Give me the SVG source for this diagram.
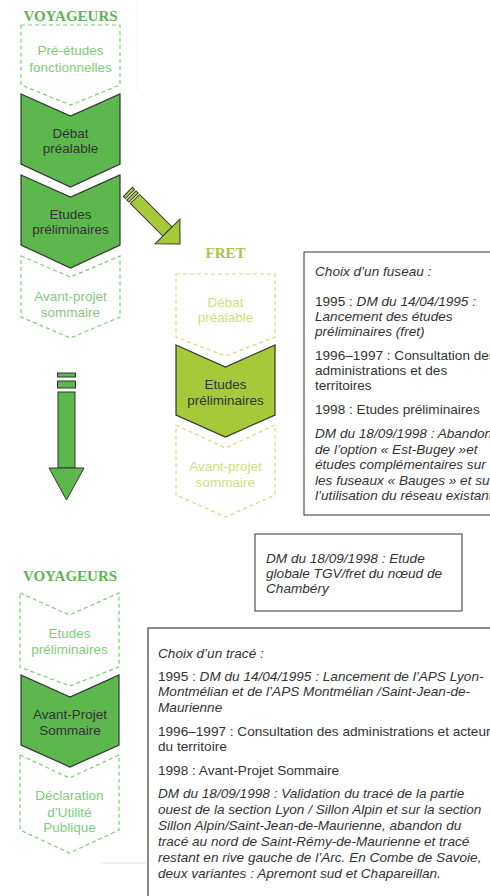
<svg xmlns="http://www.w3.org/2000/svg" width="490" height="896" viewBox="0 0 490 896">
<style>
.bg{fill:#ffffff}
.title{font-family:"Liberation Serif",serif;font-weight:bold;font-size:15px;text-anchor:middle}
.tv{fill:#5ab552}
.tf{fill:#a9c63f}
.nt{font-family:"Liberation Sans",Arial,sans-serif;font-size:13.5px;text-anchor:middle}
.solidV{fill:#5cb84d;stroke:#333;stroke-width:1.2}
.solidF{fill:#a6c93a;stroke:#333;stroke-width:1.2}
.dashV{fill:none;stroke:#7fcc7a;stroke-width:1.2;stroke-dasharray:4 3}
.dashF{fill:none;stroke:#cddf7f;stroke-width:1.2;stroke-dasharray:4 3}
.dark{fill:#333}
.lv{fill:#7fcc7a}
.lf{fill:#cddf7f}
.box{fill:#fff;stroke:#333;stroke-width:1}
.box3{fill:#fff;stroke:#666;stroke-width:1.5}
.bt{font-family:"Liberation Sans",Arial,sans-serif;font-size:13.6px;fill:#333}
.i{font-style:italic}
.arrV{fill:#5cb84d;stroke:#333;stroke-width:1}
.arrF{fill:#a6c93a;stroke:#333;stroke-width:1}
</style>
<rect class="bg" x="0" y="0" width="490" height="896"/>
<line x1="137" y1="0" x2="137" y2="90" stroke="#f0f0f0" stroke-width="1"/>
<line x1="100" y1="863" x2="146" y2="863" stroke="#e2e2e2" stroke-width="1"/>

<g id="connectors">
  <g id="arrow-diag" transform="translate(167.5,231.5) rotate(45)">
    <rect class="arrF" x="-56" y="-6.5" width="3" height="13"/>
    <rect class="arrF" x="-51" y="-6.5" width="3" height="13"/>
    <rect class="arrF" x="-46" y="-6.5" width="46" height="13"/>
    <polygon class="arrF" points="0,-17.5 17.7,0 0,17.5"/>
  </g>
  <g id="arrow-down">
    <rect class="arrV" x="57.5" y="373" width="18" height="4"/>
    <rect class="arrV" x="57.5" y="381" width="18" height="7"/>
    <rect class="arrV" x="58" y="392" width="17" height="76"/>
    <polygon class="arrV" points="49,468 84,468 66.5,500"/>
  </g>
</g>

<g id="title-voyageurs-1"><text class="title tv" x="70.5" y="21">VOYAGEURS</text></g>
<g id="node-pre-etudes">
  <path class="dashV" d="M21,25 H120 V85 L70.5,105 L21,85 Z"/>
  <text class="nt lv" x="70.5" y="55">Pré-études</text>
  <text class="nt lv" x="70.5" y="72">fonctionnelles</text>
</g>
<g id="node-debat-v">
  <path class="solidV" d="M21,94 L70.5,116 L120,94 V164 L70.5,187 L21,164 Z"/>
  <text class="nt dark" x="70.5" y="138">Débat</text>
  <text class="nt dark" x="70.5" y="153">préalable</text>
</g>
<g id="node-etudes-v">
  <path class="solidV" d="M21,175 L70.5,197 L120,175 V245 L70.5,268 L21,245 Z"/>
  <text class="nt dark" x="70.5" y="219">Etudes</text>
  <text class="nt dark" x="70.5" y="234">préliminaires</text>
</g>
<g id="node-aps-v">
  <path class="dashV" d="M21,256 L70.5,277 L120,256 V317 L70.5,338 L21,317 Z"/>
  <text class="nt lv" x="70.5" y="301">Avant-projet</text>
  <text class="nt lv" x="70.5" y="317">sommaire</text>
</g>

<g id="title-fret"><text class="title tf" x="225.5" y="258">FRET</text></g>
<g id="node-debat-f">
  <path class="dashF" d="M176,274 H275 V337 L225.5,356 L176,337 Z"/>
  <text class="nt lf" x="225.5" y="307">Débat</text>
  <text class="nt lf" x="225.5" y="322">préalable</text>
</g>
<g id="node-etudes-f">
  <path class="solidF" d="M176,345 L225.5,367 L275,345 V415 L225.5,437 L176,415 Z"/>
  <text class="nt dark" x="225.5" y="389">Etudes</text>
  <text class="nt dark" x="225.5" y="405">préliminaires</text>
</g>
<g id="node-aps-f">
  <path class="dashF" d="M176,425 L225.5,448 L275,425 V495 L225.5,517 L176,495 Z"/>
  <text class="nt lf" x="225.5" y="471">Avant-projet</text>
  <text class="nt lf" x="225.5" y="487">sommaire</text>
</g>

<g id="box-fuseau">
  <rect class="box" x="304" y="252" width="200" height="263"/>
  <text class="bt i" x="315" y="276">Choix d’un fuseau :</text>
  <text class="bt" x="315" y="306">1995 : <tspan class="i">DM du 14/04/1995 :</tspan></text>
  <text class="bt i" x="315" y="321">Lancement des études</text>
  <text class="bt i" x="315" y="336">préliminaires (fret)</text>
  <text class="bt" x="315" y="360">1996–1997 : Consultation des</text>
  <text class="bt" x="315" y="375">administrations et des</text>
  <text class="bt" x="315" y="390">territoires</text>
  <text class="bt" x="315" y="414">1998 : Etudes préliminaires</text>
  <text class="bt i" x="315" y="438">DM du 18/09/1998 : Abandon</text>
  <text class="bt i" x="315" y="454">de l’option « Est-Bugey »et</text>
  <text class="bt i" x="315" y="469">études complémentaires sur</text>
  <text class="bt i" x="315" y="485">les fuseaux « Bauges » et sur</text>
  <text class="bt i" x="315" y="500">l’utilisation du réseau existant</text>
</g>

<g id="box-chambery">
  <rect class="box" x="255" y="534" width="207" height="77"/>
  <text class="bt i" x="266" y="563">DM du 18/09/1998 : Etude</text>
  <text class="bt i" x="266" y="578">globale TGV/fret du nœud de</text>
  <text class="bt i" x="266" y="593">Chambéry</text>
</g>

<g id="title-voyageurs-2"><text class="title tv" x="70" y="581">VOYAGEURS</text></g>
<g id="node-etudes-v2">
  <path class="dashV" d="M20,593 L69.5,615 L119,593 V667 L69.5,686 L20,667 Z"/>
  <text class="nt lv" x="69.5" y="638">Etudes</text>
  <text class="nt lv" x="69.5" y="654">préliminaires</text>
</g>
<g id="node-aps-v2">
  <path class="solidV" d="M21,675 L70,697 L119,675 V745 L70,767 L21,745 Z"/>
  <text class="nt dark" x="70" y="719">Avant-Projet</text>
  <text class="nt dark" x="70" y="735">Sommaire</text>
</g>
<g id="node-dup">
  <path class="dashV" d="M20,755 L69.5,778 L119,755 V830 L69.5,853 L20,830 Z"/>
  <text class="nt lv" x="69.5" y="800">Déclaration</text>
  <text class="nt lv" x="69.5" y="817">d’Utilité</text>
  <text class="nt lv" x="69.5" y="832">Publique</text>
</g>

<g id="box-trace">
  <rect class="box3" x="148" y="628" width="360" height="300"/>
  <text class="bt i" x="158" y="658">Choix d’un tracé :</text>
  <text class="bt" x="158" y="681">1995 : <tspan class="i">DM du 14/04/1995 : Lancement de l’APS Lyon-</tspan></text>
  <text class="bt i" x="158" y="696">Montmélian et de l’APS Montmélian /Saint-Jean-de-</text>
  <text class="bt i" x="158" y="712">Maurienne</text>
  <text class="bt" x="158" y="736">1996–1997 : Consultation des administrations et acteurs</text>
  <text class="bt" x="158" y="751">du territoire</text>
  <text class="bt" x="158" y="775">1998 : Avant-Projet Sommaire</text>
  <text class="bt i" x="158" y="798">DM du 18/09/1998 : Validation du tracé de la partie</text>
  <text class="bt i" x="158" y="814">ouest de la section Lyon / Sillon Alpin et sur la section</text>
  <text class="bt i" x="158" y="830">Sillon Alpin/Saint-Jean-de-Maurienne, abandon du</text>
  <text class="bt i" x="158" y="846">tracé au nord de Saint-Rémy-de-Maurienne et tracé</text>
  <text class="bt i" x="158" y="862">restant en rive gauche de l’Arc. En Combe de Savoie,</text>
  <text class="bt i" x="158" y="878">deux variantes : Apremont sud et Chapareillan.</text>
</g>
</svg>
